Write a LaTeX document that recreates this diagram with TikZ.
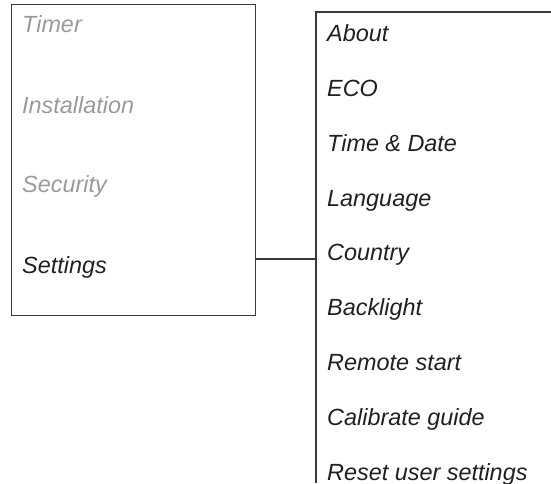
\documentclass[tikz,border=0pt]{standalone}
\usepackage{fontspec}
\setmainfont{Liberation Sans}
\definecolor{linec}{HTML}{3A3A3A}
\definecolor{dimtext}{HTML}{9A9A9A}
\definecolor{maintext}{HTML}{231F20}
\begin{document}
\begin{tikzpicture}[x=1pt,y=-1pt,
  frame/.style={draw=linec,line width=1.1pt},
  item/.style={anchor=base west,inner sep=0pt,font=\fontsize{23.4}{28}\selectfont\itshape,text=maintext},
  dimitem/.style={item,text=dimtext}]
\useasboundingbox (0,0) rectangle (551,483);
% left menu box
\node[frame,anchor=north west,minimum width=244pt,minimum height=311pt,inner sep=0pt] (menu) at (11,4) {};
\node[dimitem] (timer) at (22,32) {Timer};
\node[dimitem] (install) at (22,113) {Installation};
\node[dimitem] (security) at (22,192) {Security};
\node[item] (settings) at (22,273) {Settings};
% right submenu panel (open on right and bottom)
\coordinate (pbot) at (316,483);
\coordinate (ptop) at (316,12);
\coordinate (pright) at (551,12);
\coordinate (sub) at (316,259);
\draw[frame] (pbot) -- (ptop) -- (pright);
\draw[frame] (menu.east |- sub) -- (sub);
\node[item] (about) at (327,41) {About};
\node[item] (eco) at (327,96) {ECO};
\node[item] (timedate) at (327,151) {Time \& Date};
\node[item] (language) at (327,206) {Language};
\node[item] (country) at (327,260) {Country};
\node[item] (backlight) at (327,315) {Backlight};
\node[item] (remote) at (327,370) {Remote start};
\node[item] (calib) at (327,425) {Calibrate guide};
\node[item] (reset) at (327,480) {Reset user settings};
\end{tikzpicture}
\end{document}
